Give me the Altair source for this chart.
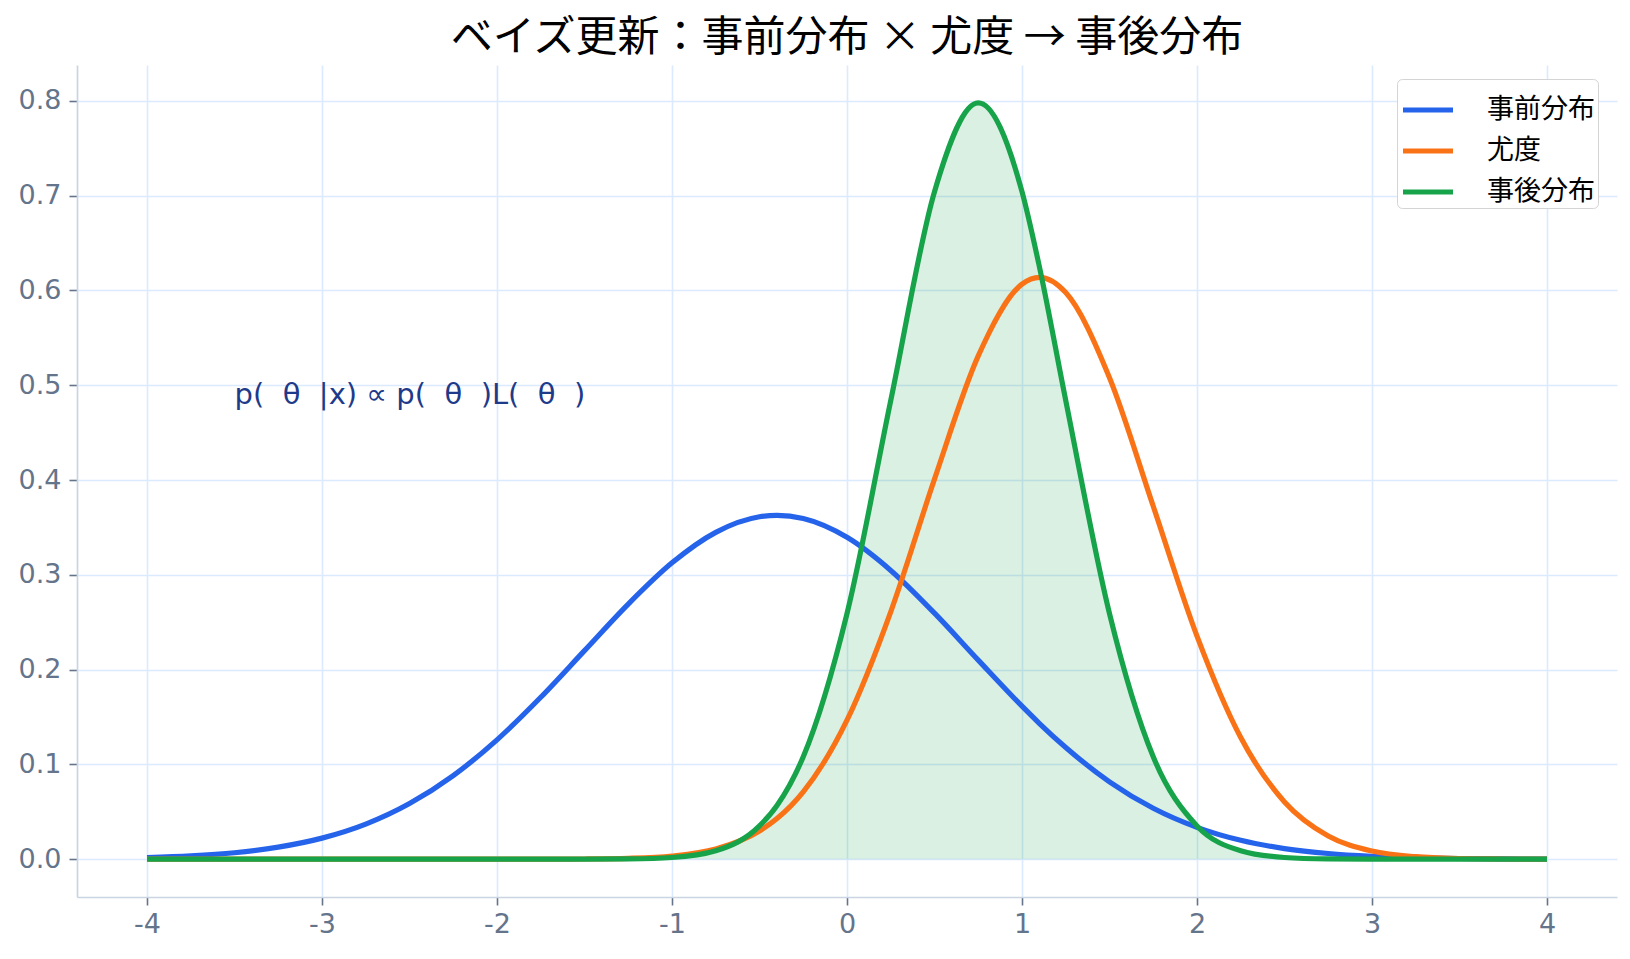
import altair as alt
import pandas as pd

X = [-4, -3.75, -3.5, -3.25, -3, -2.75, -2.5, -2.25, -2, -1.75, -1.5, -1.25, -1, -0.75,
     -0.5, -0.4, -0.25, 0, 0.25, 0.5, 0.75, 1, 1.1, 1.25, 1.5, 1.75, 2, 2.25, 2.5, 2.75,
     3, 3.25, 3.5, 3.75, 4]
PRIOR = [0.0017, 0.0035, 0.0068, 0.0127, 0.0222, 0.0370, 0.0587, 0.0882, 0.1259, 0.1708,
         0.2200, 0.2691, 0.3126, 0.3448, 0.3612, 0.3627, 0.3593, 0.3395, 0.3046, 0.2595,
         0.2100, 0.1614, 0.1431, 0.1178, 0.0816, 0.0537, 0.0336, 0.0199, 0.0112, 0.0060,
         0.0031, 0.0015, 0.0007, 0.0003, 0.0001]
LIKE = [0.0, 0.0, 0.0, 0.0, 0.0, 0.0, 0.0, 0.0, 0.0, 0.0,
        0.0002, 0.0009, 0.0033, 0.0107, 0.0297, 0.0428, 0.0710, 0.1466, 0.2610, 0.4009,
        0.5309, 0.6066, 0.6138, 0.5977, 0.5079, 0.3723, 0.2353, 0.1283, 0.0604, 0.0245,
        0.0086, 0.0026, 0.0007, 0.0002, 0.0]
POST = [0.0, 0.0, 0.0, 0.0, 0.0, 0.0, 0.0, 0.0, 0.0, 0.0,
        0.0, 0.0003, 0.0018, 0.0089, 0.0351, 0.0566, 0.1080, 0.2591, 0.4839, 0.7042,
        0.7979, 0.7042, 0.6245, 0.4839, 0.2591, 0.1080, 0.0351, 0.0089, 0.0018, 0.0003,
        0.0, 0.0, 0.0, 0.0, 0.0]

SERIES = ["事前分布", "尤度", "事後分布"]
COLORS = ["#2563eb", "#f97316", "#16a34a"]
TITLE = "ベイズ更新：事前分布 × 尤度 → 事後分布"
FORMULA = "p(\u2007θ\u2007|x) ∝ p(\u2007θ\u2007)L(\u2007θ\u2007)"
ANN_X = [-3.5]
ANN_Y = [0.5]
X_TICKS = [-4, -3, -2, -1, 0, 1, 2, 3, 4]
Y_TICKS = [0.0, 0.1, 0.2, 0.3, 0.4, 0.5, 0.6, 0.7, 0.8]

rows = []
for name, vals in zip(SERIES, [PRIOR, LIKE, POST]):
    for xv, yv in zip(X, vals):
        rows.append({"x": xv, "y": yv, "series": name})
df = pd.DataFrame(rows)
post_df = pd.DataFrame({"x": X, "y": POST})
ann_df = pd.DataFrame({"x": ANN_X, "y": ANN_Y, "t": [FORMULA]})

CJK = "Noto Sans CJK JP"
LATIN = "DejaVu Sans"

xscale = alt.Scale(domain=[-4.4, 4.4], nice=False, zero=False)
yscale = alt.Scale(domain=[-0.0399, 0.8378], nice=False, zero=False)

xaxis = alt.Axis(values=X_TICKS, title=None, labelPadding=6,
                 labelExpr="datum.value < 0 ? '-' + format(abs(datum.value), 'd') : format(datum.value, 'd')")
yaxis = alt.Axis(values=Y_TICKS, format=".1f", title=None, labelPadding=8)

area = alt.Chart(post_df).mark_area(color="#16a34a", opacity=0.16, interpolate="monotone").encode(
    x=alt.X("x:Q", scale=xscale, axis=xaxis),
    y=alt.Y("y:Q", scale=yscale, axis=yaxis),
)

lines = alt.Chart(df).mark_line(strokeWidth=5.2, interpolate="monotone").encode(
    x=alt.X("x:Q", scale=xscale),
    y=alt.Y("y:Q", scale=yscale),
    color=alt.Color("series:N", scale=alt.Scale(domain=SERIES, range=COLORS),
                    sort=SERIES,
                    legend=alt.Legend(title=None, orient="none", legendX=1320, legendY=14,
                                      symbolType="stroke", symbolStrokeWidth=5.2,
                                      symbolSize=2500, labelFontSize=27, labelFont=CJK,
                                      labelColor="#000000",
                                      strokeColor="#d4d4d4",
                                      fillColor="white",
                                      cornerRadius=5, padding=3, rowPadding=0,
                                      labelOffset=31)),
    order=alt.Order("x:Q"),
    detail="series:N",
)

ann = alt.Chart(ann_df).mark_text(align="left", baseline="alphabetic", dy=19, fontSize=29,
                                  font=LATIN, color="#1e3a8a").encode(
    x=alt.X("x:Q", scale=xscale),
    y=alt.Y("y:Q", scale=yscale),
    text="t:N",
)

chart = alt.layer(area, lines, ann).properties(
    width=1540, height=832, background="white",
    autosize=alt.AutoSizeParams(type="none"),
    padding={"left": 69, "right": 4, "top": 57, "bottom": 46},
    title=alt.TitleParams(TITLE, fontSize=42, font=CJK, fontWeight="normal",
                          color="#000000", anchor="middle", baseline="alphabetic",
                          offset=16, dy=44),
).configure_view(stroke=None).configure_axis(
    grid=True, gridColor="#dbeafe", gridWidth=1.6,
    domainColor="#cbd5e1", domainWidth=1.7,
    tickColor="#64748b", tickSize=8, tickWidth=1.6,
    labelColor="#64748b", labelFontSize=27, labelFont=LATIN,
)

chart.save("out.html", embed_options={"renderer": "svg", "actions": False})
